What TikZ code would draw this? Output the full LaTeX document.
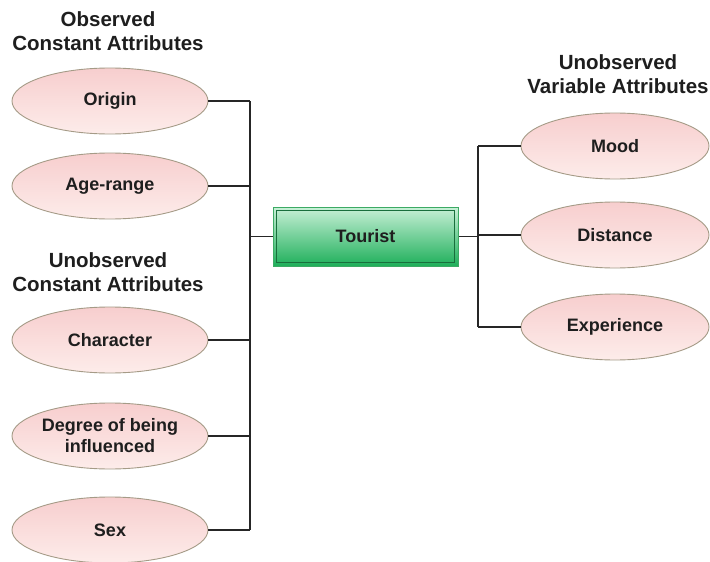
\documentclass[tikz,border=0pt]{standalone}
\usepackage{fontspec}
\setmainfont{Liberation Sans}
\usetikzlibrary{shapes.geometric}
\definecolor{txt}{RGB}{30,30,30}
\definecolor{pinkA}{RGB}{247,206,206}
\definecolor{pinkB}{RGB}{253,236,234}
\definecolor{ellline}{RGB}{165,155,135}
\definecolor{greenA}{RGB}{200,240,215}
\definecolor{greenB}{RGB}{30,175,90}
\definecolor{greenline}{RGB}{60,170,100}
\definecolor{greendark}{RGB}{25,110,60}
\tikzset{
  attr/.style={ellipse, draw=ellline, line width=0.9pt, top color=pinkA, bottom color=pinkB,
    minimum width=196pt, minimum height=66pt, inner sep=0pt, text=txt, align=center,
    font=\fontsize{18}{21}\selectfont\bfseries},
  rattr/.style={attr, minimum width=188pt},
  title/.style={text=txt, align=center, font=\fontsize{20.5}{23.5}\selectfont\bfseries},
  central/.style={rectangle, draw=greenline, line width=1pt, top color=greenA, bottom color=greenB,
    minimum width=185pt, minimum height=59pt, inner sep=0pt, text=txt,
    font=\fontsize{18}{20}\selectfont\bfseries},
  conn/.style={draw=black!85, line width=1.2pt}
}
\begin{document}
\begin{tikzpicture}[x=1pt,y=-1pt]
\useasboundingbox[fill=white] (0,0) rectangle (710,562);
% titles
\node[title] (t1) at (108,31) {Observed\\Constant Attributes};
\node[title] (t2) at (108,272) {Unobserved\\Constant Attributes};
\node[title] (t3) at (618,74) {Unobserved\\Variable Attributes};
% left ellipses
\node[attr] (origin) at (110,101) {Origin};
\node[attr] (age) at (110,186) {Age-range};
\node[attr] (char) at (110,340) {Character};
\node[attr] (deg) at (110,436) {Degree of being\\influenced};
\node[attr] (sex) at (110,530) {Sex};
% centre
\node[central] (tourist) at (365.5,236.5) {Tourist};
\draw[draw=greendark, line width=0.9pt] ([shift={(4,4)}]tourist.north west) rectangle ([shift={(-4,-4)}]tourist.south east);
% right ellipses
\node[rattr] (mood) at (615,146) {Mood};
\node[rattr] (dist) at (615,235) {Distance};
\node[rattr] (exp) at (615,327) {Experience};
% junctions
\coordinate (jl) at (250,236.5);
\coordinate (jr) at (478,236.5);
% left connectors
\draw[conn] (origin.east) -- (origin.east -| jl);
\draw[conn] (age.east) -- (age.east -| jl);
\draw[conn] (char.east) -- (char.east -| jl);
\draw[conn] (deg.east) -- (deg.east -| jl);
\draw[conn] (sex.east) -- (sex.east -| jl);
\draw[conn] (origin.east -| jl) -- (sex.east -| jl);
\draw[conn] (jl) -- (tourist.west);
% right connectors
\draw[conn] (tourist.east) -- (jr);
\draw[conn] (mood.west -| jr) -- (exp.west -| jr);
\draw[conn] (mood.west -| jr) -- (mood.west);
\draw[conn] (dist.west -| jr) -- (dist.west);
\draw[conn] (exp.west -| jr) -- (exp.west);
\end{tikzpicture}
\end{document}
